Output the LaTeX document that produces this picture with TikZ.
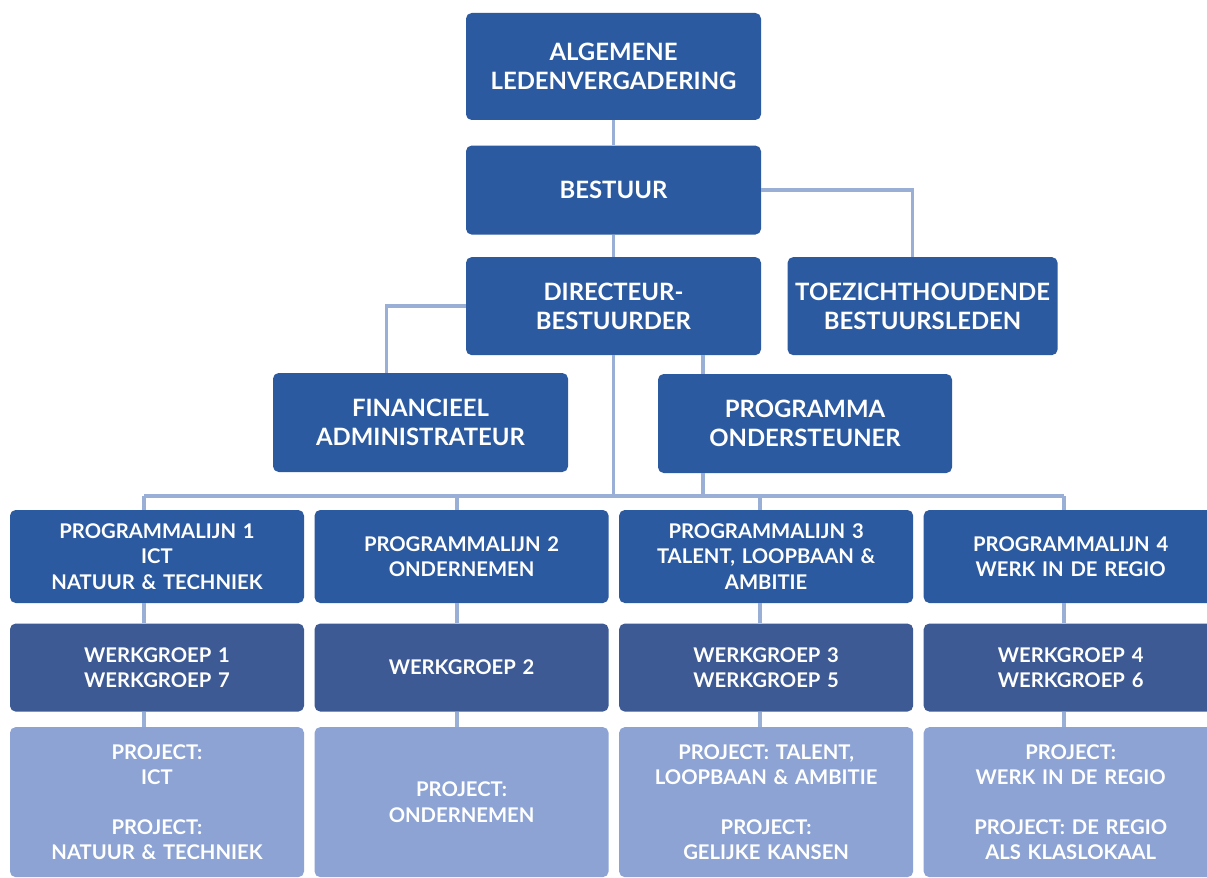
\documentclass[tikz,border=0pt]{standalone}
\usepackage{fontspec}
\setmainfont{Lato}
\usetikzlibrary{positioning, calc}
\definecolor{topblue}{HTML}{2C5AA0}
\definecolor{werkblue}{HTML}{3D5A94}
\definecolor{projectblue}{HTML}{8CA3D4}
\definecolor{linkblue}{HTML}{9AAFD6}
\tikzstyle{topbox} = [rectangle, rounded corners=4pt, minimum width=7.375cm, text width=7.1cm, align=center, fill=topblue, text=white, font=\bfseries\fontsize{17}{21}\selectfont]
\tikzstyle{lijnbox} = [topbox, minimum width=7.35cm, minimum height=2.325cm, font=\bfseries\fontsize{14.4}{18}\selectfont]
\tikzstyle{werkbox} = [lijnbox, fill=werkblue, minimum height=2.2cm]
\tikzstyle{projectbox} = [lijnbox, fill=projectblue, minimum height=3.75cm]
\tikzstyle{link} = [draw=linkblue, line width=2.4pt]

\begin{document}
\begin{tikzpicture}

    \useasboundingbox (0,0) rectangle (30.175,-21.95);
    \clip (0,0) rectangle (30.175,-21.95);
    \fill [white] (0,0) rectangle (30.175,-21.95);

    % Top
    \node (alv) [topbox, minimum height=2.675cm] at (15.3375,-1.6625) {ALGEMENE\\LEDENVERGADERING};
    \node (bestuur) [topbox, minimum height=2.225cm, below=0.625cm of alv] {BESTUUR};
    \node (directeur) [topbox, minimum height=2.45cm, below=0.55cm of bestuur] {DIRECTEUR-\\BESTUURDER};
    \node (toezicht) [topbox, minimum width=6.75cm, text width=6.5cm, minimum height=2.45cm, right=0.65cm of directeur] {TOEZICHTHOUDENDE\\BESTUURSLEDEN};
    \node (financieel) [topbox, minimum height=2.475cm] at (10.5125,-10.5625) {FINANCIEEL\\ADMINISTRATEUR};
    \node (programma) [topbox, minimum width=7.35cm, minimum height=2.475cm] at (20.125,-10.5875) {PROGRAMMA\\ONDERSTEUNER};

    % Programmalijnen
    \node (lijn1) [lijnbox] at (3.925,-13.9125) {PROGRAMMALIJN 1\\ICT\\NATUUR \& TECHNIEK};
    \node (lijn2) [lijnbox, right=0.25cm of lijn1] {PROGRAMMALIJN 2\\ONDERNEMEN};
    \node (lijn3) [lijnbox, right=0.25cm of lijn2] {PROGRAMMALIJN 3\\TALENT, LOOPBAAN \&\\AMBITIE};
    \node (lijn4) [lijnbox, right=0.25cm of lijn3] {PROGRAMMALIJN 4\\WERK IN DE REGIO};

    % Werkgroepen
    \node (werk1) [werkbox, below=0.5cm of lijn1] {WERKGROEP 1\\WERKGROEP 7};
    \node (werk2) [werkbox, below=0.5cm of lijn2] {WERKGROEP 2};
    \node (werk3) [werkbox, below=0.5cm of lijn3] {WERKGROEP 3\\WERKGROEP 5};
    \node (werk4) [werkbox, below=0.5cm of lijn4] {WERKGROEP 4\\WERKGROEP 6};

    % Projecten
    \node (project1) [projectbox, below=0.375cm of werk1] {PROJECT:\\ICT\\[17pt]PROJECT:\\NATUUR \& TECHNIEK};
    \node (project2) [projectbox, below=0.375cm of werk2] {PROJECT:\\ONDERNEMEN};
    \node (project3) [projectbox, below=0.375cm of werk3] {PROJECT: TALENT,\\LOOPBAAN \& AMBITIE\\[17pt]PROJECT:\\GELIJKE KANSEN};
    \node (project4) [projectbox, below=0.375cm of werk4] {PROJECT:\\WERK IN DE REGIO\\[17pt]PROJECT: DE REGIO\\ALS KLASLOKAAL};

    % Lijnen
    \coordinate (bus) at (0,-12.4);
    \coordinate (drop1) at (3.6,-12.4);
    \coordinate (drop2) at (11.425,-12.4);
    \coordinate (drop3) at (19.0,-12.4);
    \coordinate (drop4) at (26.6,-12.4);
    \coordinate (naarfin) at ($(financieel.north)+(-0.85,0)$);
    \coordinate (naartoe) at ($(toezicht.north)+(-0.25,0)$);
    \coordinate (steunboven) at ($(programma.north)+(-2.55,0)$);
    \coordinate (steunonder) at ($(programma.south)+(-2.55,0)$);

    \draw [link] (alv) -- (bestuur);
    \draw [link] (bestuur.east) -| (naartoe);
    \draw [link] (bestuur) -- (directeur);
    \draw [link] (directeur.west) -| (naarfin);
    \draw [link] (directeur.south) -- (directeur.south |- bus);
    \draw [link] (directeur.south -| steunboven) -- (steunboven);
    \draw [link] (steunonder) -- (steunonder |- bus);
    \draw [link] (drop1) -- (drop4);

    \draw [link] (drop1) -- (drop1 |- lijn1.north);
    \draw [link] (drop2) -- (drop2 |- lijn2.north);
    \draw [link] (drop3) -- (drop3 |- lijn3.north);
    \draw [link] (drop4) -- (drop4 |- lijn4.north);
    \draw [link] (drop1 |- lijn1.south) -- (drop1 |- werk1.north);
    \draw [link] (drop2 |- lijn2.south) -- (drop2 |- werk2.north);
    \draw [link] (drop3 |- lijn3.south) -- (drop3 |- werk3.north);
    \draw [link] (drop4 |- lijn4.south) -- (drop4 |- werk4.north);
    \draw [link] (drop1 |- werk1.south) -- (drop1 |- project1.north);
    \draw [link] (drop2 |- werk2.south) -- (drop2 |- project2.north);
    \draw [link] (drop3 |- werk3.south) -- (drop3 |- project3.north);
    \draw [link] (drop4 |- werk4.south) -- (drop4 |- project4.north);

\end{tikzpicture}
\end{document}
